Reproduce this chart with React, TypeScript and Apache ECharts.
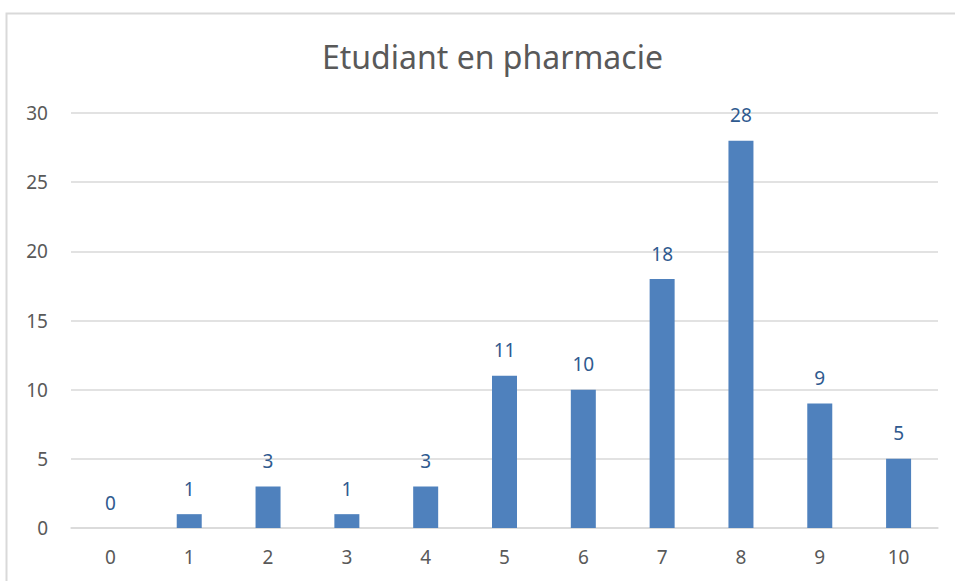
import React, { useEffect, useRef } from "react";
import * as echarts from "echarts";

const categories = ["0", "1", "2", "3", "4", "5", "6", "7", "8", "9", "10"];
const counts = [0, 1, 3, 1, 3, 11, 10, 18, 28, 9, 5];
const titleText = "Etudiant en pharmacie";

export default function App() {
  const ref = useRef<HTMLDivElement>(null);
  useEffect(() => {
    const chart = echarts.init(ref.current!, null, { renderer: "svg" });
    chart.setOption({
      animation: false,
      backgroundColor: "#ffffff",
      title: {
        text: titleText,
        left: 317,
        top: 35,
        textStyle: { fontFamily: "Noto Sans", fontSize: 32, fontWeight: "normal", color: "#595959" },
      },
      graphic: [
        {
          type: "rect",
          shape: { x: 6.5, y: 13.5, width: 1000, height: 700 },
          style: { fill: "none", stroke: "#D9D9D9", lineWidth: 2 },
          silent: true,
        },
      ],
      grid: { left: 71, right: 17, top: 113, bottom: 53, containLabel: false },
      xAxis: {
        type: "category",
        data: categories,
        axisLine: { show: true, lineStyle: { color: "#D9D9D9", width: 1.5 } },
        axisTick: { show: false },
        axisLabel: { color: "#595959", fontFamily: "Noto Sans", fontSize: 19, margin: 19 },
      },
      yAxis: {
        type: "value",
        min: 0,
        max: 30,
        interval: 5,
        axisLine: { show: false },
        axisTick: { show: false },
        splitLine: { lineStyle: { color: "#D9D9D9", width: 1.5 } },
        axisLabel: { color: "#595959", fontFamily: "Noto Sans", fontSize: 19, margin: 23 },
      },
      series: [
        {
          type: "bar",
          data: counts,
          barWidth: 25,
          itemStyle: { color: "#4F81BD" },
          label: {
            show: true,
            position: "top",
            distance: 16,
            color: "#2F5A8F",
            fontFamily: "Noto Sans",
            fontSize: 19,
          },
        },
      ],
    });
    return () => chart.dispose();
  }, []);
  return (
    <div
      ref={ref}
      style={{ position: "fixed", left: 0, top: 0, width: 955, height: 581 }}
    />
  );
}
